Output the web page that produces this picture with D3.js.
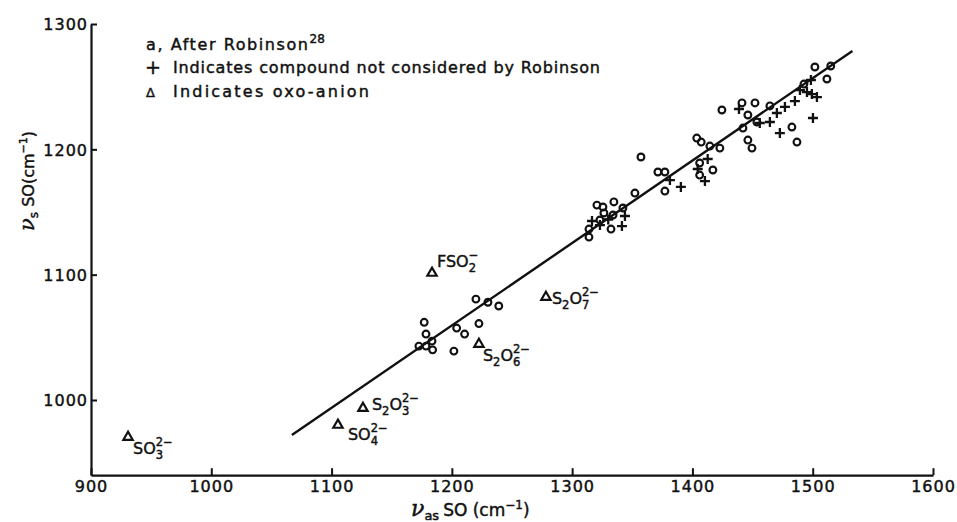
<!DOCTYPE html>
<html>
<head>
<meta charset="utf-8">
<script src="https://cdn.jsdelivr.net/npm/d3@7"></script>
<style>
  body { margin: 0; background: #fff; }
  text { font-family: "DejaVu Sans", sans-serif; fill: #111; stroke: #111; stroke-width: 0.45px; }
</style>
</head>
<body>
<div id="chart"></div>
<script>

// circles: after Robinson
var robinson = [
  [1177, 1062], [1178.5, 1052.6], [1183.5, 1047], [1172.6, 1043], [1178.5, 1043],
  [1184, 1040], [1201.7, 1039], [1204, 1057.4], [1210.6, 1052.6], [1222.5, 1061],
  [1220, 1080.5], [1230, 1078], [1239, 1075],
  [1314, 1136.4], [1314, 1130], [1320.6, 1155.5], [1325.6, 1154], [1334.7, 1158],
  [1342.2, 1153.2], [1326.4, 1149.2], [1334, 1147.6], [1332.3, 1136.4], [1323.1, 1143.6],
  [1352.2, 1165.1], [1357.2, 1193.9], [1371.3, 1181.9], [1377.1, 1181.9], [1377.1, 1166.7],
  [1403.6, 1209], [1407.3, 1205.8], [1414.5, 1202.6], [1422.8, 1201], [1406, 1189.1],
  [1417, 1183.5], [1406, 1179.5],
  [1424.5, 1231.4], [1441.2, 1237], [1452, 1237], [1446.1, 1227.4], [1464.4, 1234.6],
  [1453.6, 1221.8], [1442, 1217], [1482.7, 1217.8], [1446.1, 1207.4], [1449.5, 1201],
  [1486.9, 1205.8], [1492.7, 1252.1], [1501.8, 1265.7], [1511.8, 1256.1], [1515, 1266.5]
];

// pluses: compounds not considered by Robinson
var notConsidered = [
  [1316.5, 1142.8], [1323.1, 1139.6], [1330, 1144], [1343.9, 1146.8], [1341.4, 1138.8],
  [1381.3, 1175.5], [1390.4, 1170], [1404.4, 1184.3], [1412.7, 1192.3], [1410.4, 1174.7],
  [1438.7, 1232.2], [1456, 1221], [1464.4, 1221.8], [1470.2, 1229], [1476.9, 1233.8],
  [1485.2, 1238.5], [1472.7, 1213], [1489.4, 1247.3], [1495.2, 1245.7], [1499.3, 1244.1],
  [1503.5, 1241.7], [1498.5, 1255.3], [1500.2, 1225]
];

// triangles: oxo-anions
var oxoNames = ["SO3", "SO4", "S2O3", "FSO2", "S2O6", "S2O7"];
var oxoX = [930.8, 1105.3, 1126.1, 1183.5, 1222.5, 1278.2];
var oxoY = [970.4, 980, 993.5, 1101.3, 1044.6, 1082.1];

// fitted line end points
var fitX = [1067, 1533];
var fitY = [972, 1278.5];

var xTicks = [900, 1000, 1100, 1200, 1300, 1400, 1500, 1600];
var yTicks = [1000, 1100, 1200, 1300];

var w = 957, h = 522;

var svg = d3.select("#chart")
  .append("svg")
  .attr("width", w)
  .attr("height", h);

var x = d3.scaleLinear().domain([900, 1600]).range([91, 933]);
var y = d3.scaleLinear().domain([940, 1300]).range([475.2, 24]);

// axes, ticks point inwards
var xg = svg.append("g")
  .attr("transform", "translate(0," + y(940) + ")")
  .call(d3.axisBottom(x).tickValues(xTicks).tickFormat(d3.format("d"))
    .tickSizeInner(-7).tickSizeOuter(0).tickPadding(5));
var yg = svg.append("g")
  .attr("transform", "translate(" + x(900) + ",0)")
  .call(d3.axisLeft(y).tickValues(yTicks).tickFormat(d3.format("d"))
    .tickSizeInner(-6).tickSizeOuter(0).tickPadding(3));

[xg, yg].forEach(function(g) {
  g.select(".domain").attr("stroke", "#111").attr("stroke-width", 2.2);
  g.selectAll(".tick line").attr("stroke", "#111").attr("stroke-width", 2);
  g.selectAll(".tick text")
    .style("font-family", "DejaVu Sans")
    .style("font-size", "16px")
    .style("letter-spacing", "1px")
    .attr("fill", "#111");
});
yg.selectAll(".tick text").attr("dy", "0.36em");

// regression line
svg.append("line")
  .attr("x1", x(fitX[0])).attr("y1", y(fitY[0]))
  .attr("x2", x(fitX[1])).attr("y2", y(fitY[1]))
  .attr("stroke", "#111")
  .attr("stroke-width", 2.4);

svg.append("g").selectAll("circle")
  .data(robinson)
  .enter()
  .append("circle")
  .attr("cx", function(d) { return x(d[0]); })
  .attr("cy", function(d) { return y(d[1]); })
  .attr("r", 3.4)
  .attr("fill", "none")
  .attr("stroke", "#111")
  .attr("stroke-width", 2.1);

svg.append("g").selectAll("path")
  .data(notConsidered)
  .enter()
  .append("path")
  .attr("d", "M-5,0H5M0,-5V5")
  .attr("transform", function(d) { return "translate(" + x(d[0]) + "," + y(d[1]) + ")"; })
  .attr("stroke", "#111")
  .attr("stroke-width", 2.3);

var tri = d3.symbol().type(d3.symbolTriangle).size(38);
svg.append("g").selectAll("path")
  .data(oxoNames)
  .enter()
  .append("path")
  .attr("d", tri)
  .attr("transform", function(d, i) { return "translate(" + x(oxoX[i]) + "," + y(oxoY[i]) + ")"; })
  .attr("fill", "none")
  .attr("stroke", "#111")
  .attr("stroke-width", 2.2)
  .attr("stroke-linejoin", "miter");

// formula pieces: [text, kind, sup] with kind n / sub
var formulas = {
  SO3:  [["SO", "n"], ["3", "sub", "2\u2212"]],
  SO4:  [["SO", "n"], ["4", "sub", "2\u2212"]],
  S2O3: [["S", "n"], ["2", "sub"], ["O", "n"], ["3", "sub", "2\u2212"]],
  FSO2: [["FSO", "n"], ["2", "sub", "\u2212"]],
  S2O6: [["S", "n"], ["2", "sub"], ["O", "n"], ["6", "sub", "2\u2212"]],
  S2O7: [["S", "n"], ["2", "sub"], ["O", "n"], ["7", "sub", "2\u2212"]]
};
// label offset from its triangle
var labelOffset = {
  SO3: [5, 17], SO4: [10, 15], S2O3: [9, 2], FSO2: [5, -6], S2O6: [4, 17], S2O7: [6, 7]
};

// sub and sup of one formula are stacked as separate texts
function drawFormula(parent, px, py, parts, size) {
  var g = parent.append("g");
  var cx = px;
  var small = size * 0.72;
  parts.forEach(function(p) {
    if (p[1] === "n") {
      var t = g.append("text").attr("x", cx).attr("y", py)
        .style("font-size", size + "px").text(p[0]);
      cx += t.node().getComputedTextLength();
    } else {
      var s = g.append("text").attr("x", cx).attr("y", py + 5)
        .style("font-size", small + "px").text(p[0]);
      var wsub = s.node().getComputedTextLength();
      if (p[2]) {
        var u = g.append("text").attr("x", cx).attr("y", py - 8)
          .style("font-size", small + "px").text(p[2]);
        wsub = Math.max(wsub, u.node().getComputedTextLength());
      }
      cx += wsub;
    }
  });
  return g;
}

var labels = svg.append("g");
oxoNames.forEach(function(n, i) {
  var o = labelOffset[n];
  drawFormula(labels, x(oxoX[i]) + o[0], y(oxoY[i]) + o[1], formulas[n], 16);
});

// legend
var lg = svg.append("g").style("font-size", "16px");
var l1 = lg.append("text").attr("x", 146).attr("y", 50);
l1.append("tspan").attr("textLength", 162).text("a, After Robinson");
l1.append("tspan").attr("dy", -7).style("font-size", "12px").text("28");
lg.append("text").attr("x", 145).attr("y", 74).style("font-size", "19px").text("+");
lg.append("text").attr("x", 173).attr("y", 73).attr("textLength", 427)
  .text("Indicates compound not considered by Robinson");
lg.append("text").attr("x", 146).attr("y", 97).style("font-size", "13px").text("\u0394");
lg.append("text").attr("x", 173).attr("y", 97).attr("textLength", 196)
  .text("Indicates oxo-anion");

// axis titles
var xt = svg.append("text").attr("x", 411).attr("y", 516).style("font-size", "17px");
xt.append("tspan").style("font-family", "DejaVu Serif").style("font-style", "italic")
  .style("font-size", "22px").text("\u03bd");
xt.append("tspan").attr("dy", 4).style("font-size", "13px").text("as");
xt.append("tspan").attr("dy", -4).attr("dx", 4).text("SO (cm");
xt.append("tspan").attr("dy", -7).style("font-size", "12px").text("\u22121");
xt.append("tspan").attr("dy", 7).text(")");

var yt = svg.append("text")
  .attr("transform", "translate(34,181) rotate(-90)")
  .attr("text-anchor", "middle")
  .style("font-size", "16px");
yt.append("tspan").style("font-family", "DejaVu Serif").style("font-style", "italic")
  .style("font-size", "21px").text("\u03bd");
yt.append("tspan").attr("dy", 4).style("font-size", "12px").text("s");
yt.append("tspan").attr("dy", -4).text(" SO(cm");
yt.append("tspan").attr("dy", -7).style("font-size", "11px").text("\u22121");
yt.append("tspan").attr("dy", 7).text(")");

</script>
</body>
</html>
